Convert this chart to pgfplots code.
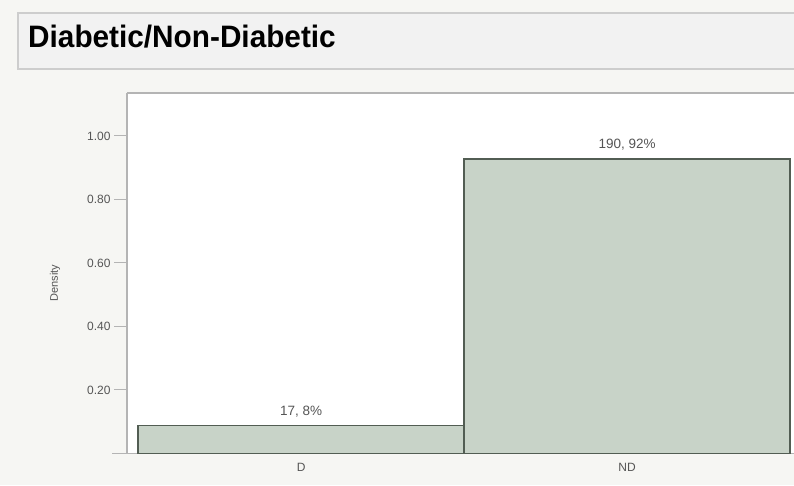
\documentclass[border=0pt]{standalone}
\usepackage{pgfplots}
\pgfplotsset{compat=1.18}
\usepackage{fontspec}
\setmainfont{Liberation Sans}
\usepackage{graphicx}
\definecolor{bg}{HTML}{F6F6F3}
\definecolor{titlebg}{HTML}{F2F2F2}
\definecolor{titleborder}{HTML}{CDCDCD}
\definecolor{barfill}{HTML}{C8D3C8}
\definecolor{baredge}{HTML}{525D53}
\definecolor{axisgray}{HTML}{B4B4B4}
\definecolor{textgray}{HTML}{555555}
\begin{document}
\begin{tikzpicture}
\useasboundingbox (0pt,0pt) rectangle (794pt,485pt);
\fill[bg] (0pt,0pt) rectangle (794pt,485pt);
\filldraw[fill=titlebg, draw=titleborder, line width=1.2pt] (18pt,416pt) rectangle (800pt,472pt);
\node[anchor=base west, inner sep=0pt] at (28pt,437pt) {\scalebox{0.96}[1]{\fontsize{31}{31}\selectfont\bfseries Diabetic/Non-Diabetic}};
\draw[axisgray, line width=1.5pt] (112pt,31.5pt) -- (794pt,31.5pt);
\begin{axis}[
  at={(127pt,31.5pt)}, anchor=south west,
  scale only axis, width=667pt, height=360.5pt,
  xmin=-0.534, xmax=1.512, ymin=0, ymax=1.135,
  axis lines=left,
  axis line style={-, draw=axisgray, line width=1.5pt},
  axis background/.style={fill=white},
  clip=false,
  ytick={0.2,0.4,0.6,0.8,1.0},
  tick align=outside,
  major tick length=13pt,
  y tick style={draw=axisgray, line width=1pt},
  /pgf/number format/assume math mode=true,
  yticklabel style={font=\fontsize{12}{12}\selectfont, text=textgray, /pgf/number format/.cd, fixed, fixed zerofill, precision=2},
  xtick={0,1}, xticklabels={D,ND},
  x tick style={draw=none},
  xticklabel style={font=\fontsize{12}{12}\selectfont, text=textgray, yshift=7pt},
  ylabel={Density},
  every axis y label/.style={at={(axis description cs:-0.108,0.473)}, rotate=90, anchor=center, font=\fontsize{11}{11}\selectfont, text=textgray},
]
\addplot[ybar, bar width=1, fill=barfill, draw=baredge, line width=1.8pt] coordinates {(0,0.088) (1,0.928)};
\draw[axisgray, line width=1.5pt] (rel axis cs:0,1) -- (rel axis cs:1.01,1);
\node[anchor=base, inner sep=0pt, yshift=10pt, text=textgray, font=\fontsize{13.5}{13.5}\selectfont] at (axis cs:0,0.088) {17, 8\%};
\node[anchor=base, inner sep=0pt, yshift=10pt, text=textgray, font=\fontsize{13.5}{13.5}\selectfont] at (axis cs:1,0.928) {190, 92\%};
\end{axis}
\end{tikzpicture}
\end{document}
